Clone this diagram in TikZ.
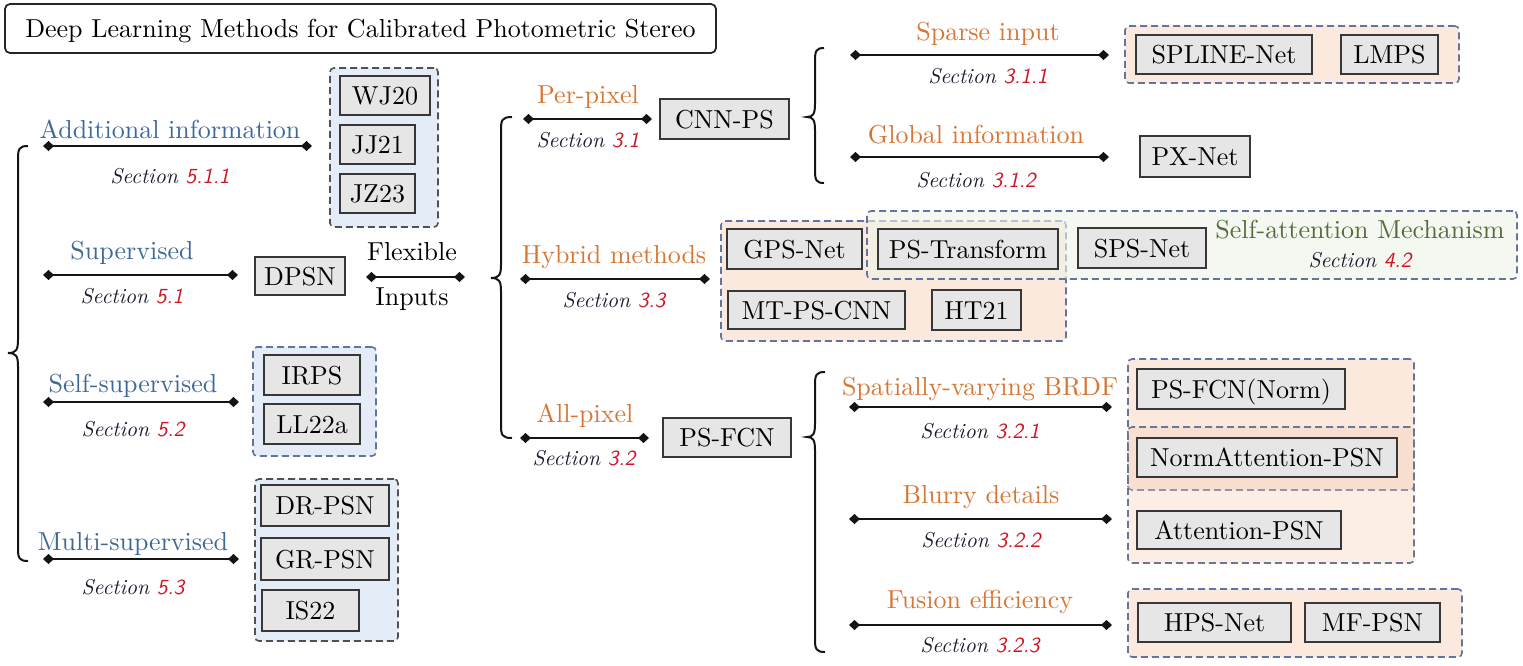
\documentclass[tikz,border=0pt]{standalone}
\usepackage{fontspec}
\setmainfont{lmroman10-regular.otf}[ItalicFont=lmroman10-italic.otf, BoldFont=lmroman10-bold.otf, BoldItalicFont=lmroman10-bolditalic.otf]
\setsansfont{lmsans10-regular.otf}[ItalicFont=lmsans10-oblique.otf, BoldFont=lmsans10-bold.otf]
\usetikzlibrary{arrows.meta}
\definecolor{catblue}{RGB}{62,104,153}
\definecolor{catorange}{RGB}{214,117,52}
\definecolor{catgreen}{RGB}{82,108,58}
\definecolor{secred}{RGB}{205,22,38}
\definecolor{secdark}{RGB}{28,28,48}
\definecolor{boxfill}{RGB}{230,230,230}
\definecolor{boxdraw}{RGB}{55,55,55}
\definecolor{blufill}{RGB}{228,237,247}
\definecolor{orafill}{RGB}{252,233,222}
\definecolor{oradark}{RGB}{245,205,180}
\definecolor{grnfill}{RGB}{237,244,231}
\definecolor{bluegray}{RGB}{98,116,160}
\definecolor{darkgrp}{RGB}{80,80,85}
\definecolor{linecol}{RGB}{20,20,20}
\newcommand{\secnum}[1]{Section {\sffamily\color{secred}#1}}
\newcommand{\mybrace}[6]{\draw[bracestyle] (#3,#4) .. controls ({#2+1},#4) and (#2,{#4+3}) .. (#2,{#4+13}) -- (#2,{#5-13}) .. controls (#2,{#5-3}) and ({#2-2},#5) .. (#1,#5) .. controls ({#2-2},#5) and (#2,{#5+3}) .. (#2,{#5+13}) -- (#2,{#6-13}) .. controls (#2,{#6-3}) and ({#2+1},#6) .. (#3,#6);}
\tikzset{
  every node/.style={font=\fontsize{26}{30}\selectfont},
  box/.style={draw=boxdraw, fill=boxfill, line width=1.4pt, inner sep=0pt, text height=18pt, text depth=0pt},
  link/.style={line width=2pt, draw=linecol, {Diamond[length=11pt,width=10pt]}-{Diamond[length=11pt,width=10pt]}},
  bracestyle/.style={line width=2pt, draw=linecol},
  lab/.style={anchor=base, inner sep=0pt},
  bluecat/.style={lab, text=catblue},
  oracat/.style={lab, text=catorange},
  sect/.style={anchor=base, inner sep=0pt, font=\fontsize{21.5}{24}\selectfont\itshape, text=secdark},
  grp/.style={rounded corners=4pt, dash pattern=on 7pt off 4pt, line width=1.6pt, inner sep=0pt},
  bluegrp/.style={grp, fill=blufill},
  oragrp/.style={grp, fill=orafill, draw=bluegray},
}
\begin{document}
\begin{tikzpicture}[x=1pt,y=-1pt]
\useasboundingbox (0,0) rectangle (1523,665);
% title
\node[draw=black!85, line width=1.8pt, rounded corners=5pt, minimum width=711pt, minimum height=49pt, inner sep=0pt, text height=18pt, text depth=0pt] (title) at (360.5,28.5) {Deep Learning Methods for Calibrated Photometric Stereo};

% groups
\node[bluegrp, draw=darkgrp, minimum width=108pt, minimum height=159pt] (gAdd) at (384,147.5) {};
\node[bluegrp, draw=bluegray, minimum width=123pt, minimum height=109pt] (gSelf) at (314.5,401.5) {};
\node[bluegrp, draw=darkgrp, minimum width=143pt, minimum height=162pt] (gMulti) at (326.5,560) {};
\node[oragrp, minimum width=345pt, minimum height=120pt] (gHyb) at (893.5,281) {};
\node[grp, fill=grnfill, fill opacity=0.6, draw=bluegray, minimum width=650pt, minimum height=68pt] (gAtt) at (1192,245) {};
\node[oragrp, minimum width=334pt, minimum height=57pt] (gSparse) at (1292,54.5) {};
\node[oragrp, minimum width=286pt, minimum height=131pt] (gA) at (1271,424.5) {};
\node[grp, fill=oradark, fill opacity=0.35, draw=bluegray!70!gray, minimum width=286pt, minimum height=136pt] (gB) at (1271,495) {};
\node[oragrp, minimum width=334pt, minimum height=68pt] (gFus) at (1295,623) {};

% boxes
\node[box, minimum width=90pt, minimum height=39pt] (wj20) at (385,95.5) {WJ20};
\node[box, minimum width=75pt, minimum height=39pt] (jj21) at (377.5,144.5) {JJ21};
\node[box, minimum width=75pt, minimum height=39pt] (jz23) at (377.5,193.5) {JZ23};
\node[box, minimum width=90pt, minimum height=38pt] (dpsn) at (300,276) {DPSN};
\node[box, minimum width=96pt, minimum height=40pt] (irps) at (312,375) {IRPS};
\node[box, minimum width=96pt, minimum height=40pt] (ll22a) at (312,424) {LL22a};
\node[box, minimum width=128pt, minimum height=41pt] (drpsn) at (325,505.5) {DR-PSN};
\node[box, minimum width=128pt, minimum height=42pt] (grpsn) at (325,559) {GR-PSN};
\node[box, minimum width=97pt, minimum height=41pt] (is22) at (310.5,610.5) {IS22};
\node[box, minimum width=129pt, minimum height=40pt] (cnnps) at (724.5,119) {CNN-PS};
\node[box, minimum width=128pt, minimum height=39pt] (psfcn) at (727,437.5) {PS-FCN};
\node[box, minimum width=135pt, minimum height=40pt] (gpsnet) at (794.5,249) {GPS-Net};
\node[box, minimum width=180pt, minimum height=40pt] (pstrans) at (968,249) {PS-Transform};
\node[box, minimum width=128pt, minimum height=40pt] (spsnet) at (1142,248) {SPS-Net};
\node[box, minimum width=177pt, minimum height=38pt] (mtps) at (816.5,310) {MT-PS-CNN};
\node[box, minimum width=89pt, minimum height=40pt] (ht21) at (976.5,310) {HT21};
\node[box, minimum width=176pt, minimum height=39pt] (spline) at (1224,54.5) {SPLINE-Net};
\node[box, minimum width=97pt, minimum height=39pt] (lmps) at (1389.5,54.5) {LMPS};
\node[box, minimum width=110pt, minimum height=41pt] (pxnet) at (1195,156.5) {PX-Net};
\node[box, minimum width=208pt, minimum height=40pt] (psfcnn) at (1241,389) {PS-FCN(Norm)};
\node[box, minimum width=260pt, minimum height=39pt] (normatt) at (1267,457.5) {NormAttention-PSN};
\node[box, minimum width=204pt, minimum height=38pt] (attpsn) at (1239,530) {Attention-PSN};
\node[box, minimum width=153pt, minimum height=39pt] (hpsnet) at (1214.5,622.5) {HPS-Net};
\node[box, minimum width=135pt, minimum height=39pt] (mfpsn) at (1372.5,622.5) {MF-PSN};

% braces
\mybrace{8}{18}{28}{146}{353}{561}
\mybrace{491}{501}{512}{117}{278}{438}
\mybrace{807}{815}{824}{48}{117}{183}
\mybrace{807}{815}{825}{372}{437}{652}

% connector end points
\coordinate (addL) at (43,146);   \coordinate (addR) at (312,146);
\coordinate (supL) at (43,275);   \coordinate (supR) at (238,275);
\coordinate (flxL) at (366,277);  \coordinate (flxR) at (465,277);
\coordinate (selL) at (43,402);   \coordinate (selR) at (239,402);
\coordinate (mulL) at (43,559);   \coordinate (mulR) at (239,559);
\coordinate (perL) at (523,119);  \coordinate (perR) at (652,119);
\coordinate (hybL) at (520,279);  \coordinate (hybR) at (710,279);
\coordinate (allL) at (520,438);  \coordinate (allR) at (649,438);
\coordinate (spaL) at (850,55);   \coordinate (spaR) at (1109,55);
\coordinate (gloL) at (850,157);  \coordinate (gloR) at (1109,157);
\coordinate (svbL) at (849,407);  \coordinate (svbR) at (1112,407);
\coordinate (blrL) at (849,519);  \coordinate (blrR) at (1112,519);
\coordinate (fusL) at (849,625);  \coordinate (fusR) at (1112,625);

\draw[link] (addL) -- (addR);
\draw[link] (supL) -- (supR);
\draw[link] (flxL) -- (flxR);
\draw[link] (selL) -- (selR);
\draw[link] (mulL) -- (mulR);
\draw[link] (perL) -- (perR);
\draw[link] (hybL) -- (hybR);
\draw[link] (allL) -- (allR);
\draw[link] (spaL) -- (spaR);
\draw[link] (gloL) -- (gloR);
\draw[link] (svbL) -- (svbR);
\draw[link] (blrL) -- (blrR);
\draw[link] (fusL) -- (fusR);

% labels
\node[bluecat] (tAdd) at (170,138) {Additional information};
\node[sect] (sAdd) at (170,183) {\secnum{5.1.1}};
\node[bluecat] (tSup) at (132,259) {Supervised};
\node[sect] (sSup) at (132,303) {\secnum{5.1}};
\node[bluecat] (tSel) at (133,392) {Self-supervised};
\node[sect] (sSel) at (133,436) {\secnum{5.2}};
\node[bluecat] (tMul) at (133,550) {Multi-supervised};
\node[sect] (sMul) at (133,594) {\secnum{5.3}};
\node[lab] (tFlx) at (412,260) {Flexible};
\node[lab] (tInp) at (412,305) {Inputs};
\node[oracat] (tPer) at (588,103) {Per-pixel};
\node[sect] (sPer) at (588,147) {\secnum{3.1}};
\node[oracat] (tHyb) at (614,263) {Hybrid methods};
\node[sect] (sHyb) at (614,307) {\secnum{3.3}};
\node[oracat] (tAll) at (585,422) {All-pixel};
\node[sect] (sAll) at (584,465) {\secnum{3.2}};
\node[oracat] (tSpa) at (988,40) {Sparse input};
\node[sect] (sSpa) at (988,83) {\secnum{3.1.1}};
\node[oracat] (tGlo) at (976,143) {Global information};
\node[sect] (sGlo) at (976,187) {\secnum{3.1.2}};
\node[oracat] (tSvb) at (980,395) {Spatially-varying BRDF};
\node[sect] (sSvb) at (980,438) {\secnum{3.2.1}};
\node[oracat] (tBlr) at (981,503) {Blurry details};
\node[sect] (sBlr) at (981,547) {\secnum{3.2.2}};
\node[oracat] (tFus) at (980,608) {Fusion efficiency};
\node[sect] (sFus) at (980,652) {\secnum{3.2.3}};
\node[lab, text=catgreen] (tAtt) at (1360,238) {Self-attention Mechanism};
\node[sect] (sAtt) at (1360,267) {\secnum{4.2}};
\end{tikzpicture}
\end{document}
